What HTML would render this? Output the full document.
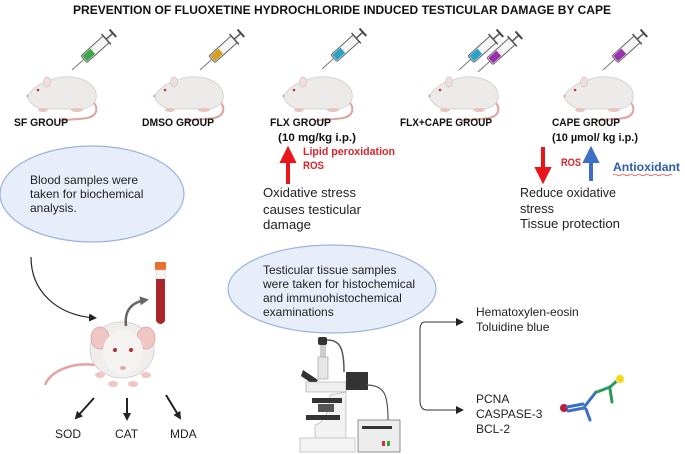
<!DOCTYPE html>
<html><head><meta charset="utf-8"><style>
html,body{margin:0;padding:0;background:#fff;}
svg{display:block;font-family:"Liberation Sans",sans-serif;}
</style></head><body>
<svg width="685" height="454" viewBox="0 0 685 454" xmlns="http://www.w3.org/2000/svg">
<defs>
<g id="rat">
  <path d="M68,30 C74,36 72,44 62,46 C50,48 40,47 34,49" fill="none" stroke="#e2a3a0" stroke-width="2"/>
  <path d="M2,24 C8,16 16,10 26,8 C40,2 62,4 70,18 C74,28 68,36 56,37 L18,37 C10,36 4,30 2,24 Z" fill="#ecebe9" stroke="#d6d4d1" stroke-width="1"/>
  <ellipse cx="22" cy="10" rx="3.5" ry="5" fill="#f0dedd" stroke="#d6c9c8" stroke-width="0.8"/>
  <circle cx="13" cy="18" r="1.3" fill="#c0393b"/>
  <circle cx="2.5" cy="24" r="1.2" fill="#e2a3a0"/>
  <ellipse cx="18" cy="38" rx="5" ry="2" fill="#e8c4c1"/>
  <ellipse cx="52" cy="38" rx="6" ry="2" fill="#e8c4c1"/>
</g>
<g id="syr">
  <line x1="0" y1="0" x2="16" y2="0" stroke="#777" stroke-width="1"/>
  <rect x="16" y="-4.5" width="30" height="9" rx="1.5" fill="#f5f5f5" stroke="#666" stroke-width="1"/>
  <line x1="46" y1="0" x2="55" y2="0" stroke="#555" stroke-width="1.5"/>
  <line x1="55" y1="-5" x2="55" y2="5" stroke="#444" stroke-width="2"/>
  <line x1="46" y1="-7" x2="46" y2="7" stroke="#555" stroke-width="1.5"/>
</g>
<marker id="ah" markerWidth="8" markerHeight="8" refX="6" refY="4" orient="auto" markerUnits="userSpaceOnUse"><path d="M0,0 L8,4 L0,8 Z" fill="#222"/></marker>
<marker id="ahg" markerWidth="9" markerHeight="9" refX="6" refY="4.5" orient="auto" markerUnits="userSpaceOnUse"><path d="M0,0 L9,4.5 L0,9 Z" fill="#666"/></marker>
</defs>

<text x="342" y="14" text-anchor="middle" font-size="11.5" font-weight="bold" fill="#111" textLength="538" lengthAdjust="spacingAndGlyphs">PREVENTION OF FLUOXETINE HYDROCHLORIDE INDUCED TESTICULAR DAMAGE BY CAPE</text>

<!-- rats -->
<use href="#rat" transform="translate(25,72)"/>
<use href="#rat" transform="translate(152,72)"/>
<use href="#rat" transform="translate(281,72)"/>
<use href="#rat" transform="translate(427,72)"/>
<use href="#rat" transform="translate(562,72)"/>

<!-- syringes -->
<g transform="translate(72,70) rotate(-42)"><use href="#syr"/><rect x="17" y="-3.5" width="11" height="7" fill="#3aa84a"/></g>
<g transform="translate(200,70) rotate(-42)"><use href="#syr"/><rect x="17" y="-3.5" width="11" height="7" fill="#d4a021"/></g>
<g transform="translate(322,69) rotate(-42)"><use href="#syr"/><rect x="17" y="-3.5" width="11" height="7" fill="#2ba3c9"/></g>
<g transform="translate(459,70) rotate(-42)"><use href="#syr"/><rect x="17" y="-3.5" width="11" height="7" fill="#2ba3c9"/></g>
<g transform="translate(478,72) rotate(-42)"><use href="#syr"/><rect x="17" y="-3.5" width="11" height="7" fill="#9b2fb0"/></g>
<g transform="translate(603,70) rotate(-42)"><use href="#syr"/><rect x="17" y="-3.5" width="11" height="7" fill="#9b2fb0"/></g>

<!-- group labels -->
<g font-size="11" font-weight="bold" fill="#111">
<text x="14" y="126" textLength="54" lengthAdjust="spacingAndGlyphs">SF GROUP</text>
<text x="142" y="126" textLength="72" lengthAdjust="spacingAndGlyphs">DMSO GROUP</text>
<text x="270" y="126" textLength="61" lengthAdjust="spacingAndGlyphs">FLX GROUP</text>
<text x="278" y="141" textLength="78" lengthAdjust="spacingAndGlyphs">(10 mg/kg i.p.)</text>
<text x="400" y="126" textLength="92" lengthAdjust="spacingAndGlyphs">FLX+CAPE GROUP</text>
<text x="552" y="126" textLength="68" lengthAdjust="spacingAndGlyphs">CAPE GROUP</text>
<text x="552" y="141" textLength="86" lengthAdjust="spacingAndGlyphs">(10 µmol/ kg i.p.)</text>
</g>

<!-- FLX arrow -->
<path d="M287,183 L287,162 L281,162 L288,148 L295,162 L289,162 L289,183 Z" fill="#e8161b" stroke="#e8161b" stroke-width="2"/>
<g font-size="11" font-weight="bold" fill="#d9262b">
<text x="303" y="155" textLength="92" lengthAdjust="spacingAndGlyphs">Lipid peroxidation</text>
<text x="303" y="169" textLength="21" lengthAdjust="spacingAndGlyphs">ROS</text>
</g>
<g font-size="13" fill="#222">
<text x="263" y="197" textLength="93" lengthAdjust="spacingAndGlyphs">Oxidative stress</text>
<text x="263" y="214" textLength="98" lengthAdjust="spacingAndGlyphs">causes testicular</text>
<text x="263" y="229" textLength="48" lengthAdjust="spacingAndGlyphs">damage</text>
</g>

<!-- CAPE arrows -->
<path d="M542,148 L542,168 L536,168 L543,182 L550,168 L544,168 L544,148 Z" fill="#e8161b" stroke="#e8161b" stroke-width="2"/>
<text x="561" y="166" font-size="11" font-weight="bold" fill="#d9262b" textLength="20" lengthAdjust="spacingAndGlyphs">ROS</text>
<path d="M590,180 L590,162 L584,162 L591,148 L598,162 L592,162 L592,180 Z" fill="#3d6fc4" stroke="#3d6fc4" stroke-width="2"/>
<text x="613" y="171" font-size="12" font-weight="bold" fill="#2e5bb0" textLength="67" lengthAdjust="spacingAndGlyphs">Antioxidant</text>
<path d="M613,175 q2,-1.5 4,0 t4,0 t4,0 t4,0 t4,0 t4,0 t4,0 t4,0 t4,0 t4,0 t4,0 t4,0 t4,0 t4,0 t3,0" fill="none" stroke="#e05555" stroke-width="0.8"/>
<g font-size="13" fill="#222">
<text x="520" y="197" textLength="96" lengthAdjust="spacingAndGlyphs">Reduce oxidative</text>
<text x="520" y="213" textLength="34" lengthAdjust="spacingAndGlyphs">stress</text>
<text x="520" y="228" textLength="100" lengthAdjust="spacingAndGlyphs">Tissue protection</text>
</g>

<!-- Ellipse 1 -->
<ellipse cx="92" cy="194" rx="92" ry="48" fill="#e8eef9" stroke="#9db3dc" stroke-width="1.2"/>
<g font-size="12" fill="#222">
<text x="30" y="184">Blood samples were</text>
<text x="30" y="198">taken for biochemical</text>
<text x="30" y="212">analysis.</text>
</g>

<!-- curved arrow to mouse -->
<path d="M31,257 C31,290 55,315 95,318" fill="none" stroke="#222" stroke-width="1.2" marker-end="url(#ah)"/>

<!-- mouse -->
<g>
  <path d="M95,365 C70,362 50,372 45,385" fill="none" stroke="#e2a3a0" stroke-width="2.5"/>
  <ellipse cx="122" cy="350" rx="32" ry="28" fill="#efeeec" stroke="#d6d4d1"/>
  <ellipse cx="100" cy="338" rx="9" ry="11" fill="#f0c6c4" stroke="#dcaeac"/>
  <ellipse cx="146" cy="338" rx="9" ry="11" fill="#f0c6c4" stroke="#dcaeac"/>
  <ellipse cx="123" cy="352" rx="20" ry="22" fill="#f4f3f1"/>
  <circle cx="115" cy="350" r="2" fill="#b42d2f"/>
  <circle cx="131" cy="350" r="2" fill="#b42d2f"/>
  <ellipse cx="123" cy="368" rx="3" ry="2" fill="#e8a9a6"/>
  <ellipse cx="100" cy="375" rx="5" ry="3" fill="#f0c6c4"/>
  <ellipse cx="146" cy="375" rx="5" ry="3" fill="#f0c6c4"/>
  <ellipse cx="113" cy="384" rx="5" ry="3" fill="#f0c6c4"/>
  <ellipse cx="133" cy="384" rx="5" ry="3" fill="#f0c6c4"/>
</g>
<path d="M126,326 C124,310 132,302 146,300" fill="none" stroke="#666" stroke-width="2.5" marker-end="url(#ahg)"/>
<!-- tube -->
<rect x="155" y="262" width="11" height="8" rx="1" fill="#e8702a"/>
<rect x="156" y="270" width="9" height="9" fill="#f4f4f4" stroke="#ccc" stroke-width="0.5"/>
<path d="M156,279 L165,279 L165,321 Q160.5,327 156,321 Z" fill="#a8272a"/>

<!-- down arrows -->
<g stroke="#222" stroke-width="2" marker-end="url(#ah)">
<line x1="94" y1="398" x2="76" y2="418"/>
<line x1="127" y1="398" x2="127" y2="419"/>
<line x1="166" y1="395" x2="180" y2="418"/>
</g>
<g font-size="12" fill="#222">
<text x="55" y="438">SOD</text>
<text x="115" y="438">CAT</text>
<text x="170" y="438">MDA</text>
</g>

<!-- Ellipse 2 -->
<ellipse cx="332" cy="289" rx="104" ry="44" fill="#e8eef9" stroke="#9db3dc" stroke-width="1.2"/>
<g font-size="12" fill="#222">
<text x="263" y="274">Testicular tissue samples</text>
<text x="263" y="288">were taken for histochemical</text>
<text x="263" y="302">and immunohistochemical</text>
<text x="263" y="316">examinations</text>
</g>

<!-- microscope -->
<g>
  <rect x="318" y="337" width="9" height="8" rx="2" fill="#333"/>
  <path d="M327,340 C340,340 344,348 344,372" fill="none" stroke="#555" stroke-width="1.5"/>
  <rect x="320" y="345" width="6" height="12" fill="#ccc"/>
  <rect x="318" y="357" width="10" height="22" fill="#e6e6e6" stroke="#999" stroke-width="0.6"/>
  <path d="M303,370 L318,380 L314,385 L301,376 Z" fill="#333"/>
  <path d="M306,382 L346,382 L346,392 L306,392 Z" fill="#eee" stroke="#999" stroke-width="0.6"/>
  <rect x="346" y="372" width="22" height="18" fill="#333"/>
  <path d="M346,392 L346,440 L315,440 L315,425 C325,422 330,410 330,395 Z" fill="#f2f2f2" stroke="#aaa" stroke-width="0.6"/>
  <rect x="312" y="398" width="30" height="5" fill="#333"/>
  <rect x="318" y="404" width="16" height="8" fill="#555"/>
  <rect x="306" y="415" width="34" height="5" fill="#333"/>
  <rect x="300" y="438" width="55" height="14" fill="#f4f4f4" stroke="#aaa" stroke-width="0.6"/>
  <path d="M366,385 C385,385 388,395 388,420" fill="none" stroke="#555" stroke-width="1.2"/>
  <rect x="358" y="420" width="42" height="32" fill="#ededed" stroke="#777" stroke-width="0.8"/>
  <rect x="362" y="426" width="30" height="3" fill="#333"/>
  <rect x="382" y="441" width="3" height="5" fill="#c33"/>
  <rect x="387" y="441" width="3" height="5" fill="#3a3"/>
</g>

<!-- bracket -->
<path d="M462,322 L425,322 Q420,322 420,330 L420,400 Q420,410 427,410 L462,410" fill="none" stroke="#333" stroke-width="1" />
<path d="M456,318 L464,322 L456,326 Z" fill="#222"/>
<path d="M456,406 L464,410 L456,414 Z" fill="#222"/>
<g font-size="12" fill="#222">
<text x="476" y="316">Hematoxylen-eosin</text>
<text x="476" y="331">Toluidine blue</text>
<text x="476" y="403">PCNA</text>
<text x="476" y="418">CASPASE-3</text>
<text x="476" y="433">BCL-2</text>
</g>

<!-- antibody -->
<g stroke-width="3" fill="none" stroke-linecap="round">
  <circle cx="564" cy="408" r="4" fill="#c0183a" stroke="none"/>
  <path d="M567,407 L583,404" stroke="#3a6fc4"/>
  <path d="M568,411 L584,408" stroke="#3a6fc4"/>
  <path d="M585,406 L596,392" stroke="#3a6fc4"/>
  <path d="M586,409 L590,420" stroke="#3a6fc4"/>
  <path d="M597,392 L610,387" stroke="#2a9a5a"/>
  <path d="M610,387 L618,380" stroke="#2a9a5a"/>
  <path d="M610,389 L612,402" stroke="#2a9a5a"/>
  <circle cx="620" cy="379" r="4" fill="#f2d81c" stroke="#f5e870" stroke-width="1"/>
</g>
</svg>
</body></html>
